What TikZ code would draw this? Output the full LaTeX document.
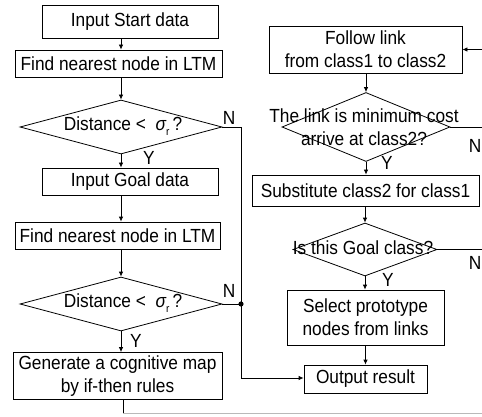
\documentclass[tikz,border=0pt]{standalone}
\usepackage{fontspec}
\setmainfont[FakeStretch=0.91]{Liberation Sans}
\usetikzlibrary{shapes.geometric,arrows.meta}
\newcommand{\fsz}{\fontsize{19}{23}\selectfont}
\begin{document}
\begin{tikzpicture}[x=1pt,y=-1pt,
  box/.style={draw, line width=0.8pt, inner sep=0pt, align=center, font=\fsz},
  dia/.style={draw, diamond, line width=0.8pt, inner sep=0pt},
  lbl/.style={font=\fsz, inner sep=0pt, align=center},
  ln/.style={line width=0.8pt},
  arr/.style={ln, -{Latex[length=5pt,width=4.5pt]}},
]
\useasboundingbox (0,0) rectangle (482,417);
\clip (0,0) rectangle (482,417);
% left column
\node[box, minimum width=176pt, minimum height=33pt] (s1) at (130,21.5) {Input Start data};
\node[box, minimum width=207pt, minimum height=27pt] (s2) at (118.5,63.5) {Find nearest node in LTM};
\node[dia, minimum width=202pt, minimum height=54pt] (d1) at (121,127) {};
\node[lbl] (d1t) at (123,126) {Distance <\ \ {\itshape σ}\raisebox{-5pt}{\fontsize{11}{11}\selectfont r}\,?};
\node[box, minimum width=176pt, minimum height=27pt] (s3) at (130,181.5) {Input Goal data};
\node[box, minimum width=205pt, minimum height=27pt] (s4) at (117.5,235.5) {Find nearest node in LTM};
\node[dia, minimum width=202pt, minimum height=54pt] (d2) at (121,304) {};
\node[lbl] (d2t) at (123,303) {Distance <\ \ {\itshape σ}\raisebox{-5pt}{\fontsize{11}{11}\selectfont r}\,?};
\node[box, minimum width=209pt, minimum height=47pt] (s5) at (117.5,376) {Generate a cognitive map\\by if-then rules};
\node[lbl] (y1) at (149,158) {Y};
\node[lbl] (n1) at (229,118) {N};
\node[lbl] (y2) at (136,341) {Y};
\node[lbl] (n2) at (229,291) {N};
% right column
\node[box, minimum width=193pt, minimum height=47pt] (r1) at (365.5,49.5) {Follow link\\from class1 to class2};
\node[dia, minimum width=168pt, minimum height=69pt] (d3) at (366,127) {};
\node[lbl] (d3t) at (364,127) {The link is minimum cost\\arrive at class2?};
\node[box, minimum width=227pt, minimum height=31pt] (r2) at (365.5,190.5) {Substitute class2 for class1};
\node[dia, minimum width=144pt, minimum height=53pt] (d4) at (365,249.5) {};
\node[lbl] (d4t) at (363,248) {Is this Goal class?};
\node[box, minimum width=157pt, minimum height=55pt] (r3) at (365.5,317.5) {Select prototype\\nodes from links};
\node[box, minimum width=123pt, minimum height=28pt] (r4) at (365.5,379) {Output result};
\node[lbl] (y3) at (387,163) {Y};
\node[lbl, anchor=east] (n3) at (481.5,146) {N};
\node[lbl] (y4) at (388,280) {Y};
\node[lbl, anchor=east] (n4) at (481.5,263) {N};
% coordinates
\coordinate (c1) at (241,127);
\coordinate (dot) at (241,304);
\coordinate (c2) at (241,378);
\coordinate (e0) at (482,49.5);
\coordinate (e1) at (482,127);
\coordinate (e2) at (482,249.5);
\coordinate (b1) at (123,413);
\coordinate (b2) at (482,413);
% connectors left
\draw[arr] (s1.south -| d1.north) -- (s2.north -| d1.north);
\draw[arr] (s2.south -| d1.north) -- (d1.north);
\draw[arr] (d1.south) -- (s3.north -| d1.south);
\draw[arr] (s3.south -| d1.north) -- (s4.north -| d1.north);
\draw[arr] (s4.south -| d2.north) -- (d2.north);
\draw[arr] (d2.south) -- (s5.north -| d2.south);
\draw[ln] (d1.east) -- (c1) -- (c2);
\draw[ln] (d2.east) -- (dot);
\fill (dot) circle (2.6pt);
\draw[arr] (c2) -- (c2 -| r4.west);
\draw[ln] (s5.south -| b1) -- (b1);
\draw[ln, gray!55] (b1) -- (b2);
% connectors right
\draw[arr] (e0) -- (r1.east);
\draw[arr] (r1.south -| d3.north) -- (d3.north);
\draw[arr] (d3.south) -- (r2.north -| d3.south);
\draw[ln] (d3.east) -- (e1);
\draw[arr] (r2.south -| d4.north) -- (d4.north);
\draw[arr] (d4.south) -- (r3.north -| d4.south);
\draw[ln] (d4.east) -- (e2);
\draw[arr] (r3.south -| r4.north) -- (r4.north);
\end{tikzpicture}
\end{document}
